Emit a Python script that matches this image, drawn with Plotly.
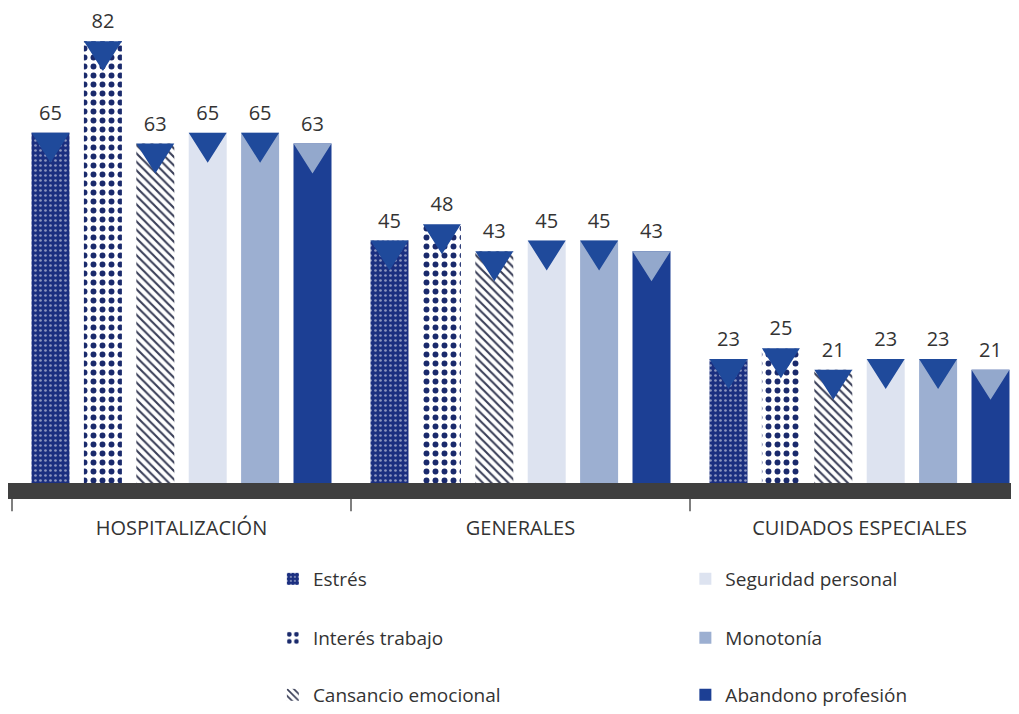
import plotly.graph_objects as go

categories = ["HOSPITALIZACIÓN", "GENERALES", "CUIDADOS ESPECIALES"]
series_names = ["Estrés", "Interés trabajo", "Cansancio emocional",
                "Seguridad personal", "Monotonía", "Abandono profesión"]
estres = [65, 45, 23]
interes = [82, 48, 25]
cansancio = [63, 43, 21]
seguridad = [65, 45, 23]
monotonia = [65, 45, 23]
abandono = [63, 43, 21]
values = [estres, interes, cansancio, seguridad, monotonia, abandono]

# ---- styling / geometry ----
PX_PER_X = 339.0
PX_PER_Y = 5.4
PITCH = 52.4 / PX_PER_X
BAR_W = 38 / PX_PER_X
TRI_H = 30 / PX_PER_Y
LABEL_GAP = 18 / PX_PER_Y
FONT = "Open Sans"
TXT = "#333333"
NAVY = "#1b2f80"

W, H = 1011, 706          # page body has an 8px margin
PLOT_H = 492

styles = [
    dict(color=NAVY, pattern=dict(shape=".", fgcolor="white", size=5, solidity=0.22, fillmode="overlay")),
    dict(color="white", pattern=dict(shape=".", fgcolor="#1a2a6c", bgcolor="white", size=9, solidity=0.34, fillmode="replace")),
    dict(color="white", pattern=dict(shape="\\", fgcolor="#3a3f58", bgcolor="white", size=6, solidity=0.35, fillmode="replace")),
    dict(color="#dde3f0"),
    dict(color="#9cafd1"),
    dict(color="#1c3f94"),
]
legend_ids = ["legend", "legend2", "legend3", "legend4", "legend5", "legend6"]

fig = go.Figure()
gidx = list(range(len(categories)))
dark_x, dark_y, light_x, light_y = [], [], [], []
lab_x, lab_y, lab_t = [], [], []
for i, (name, vals) in enumerate(zip(series_names, values)):
    xs = [g + (i - 2.5) * PITCH for g in gidx]
    fig.add_trace(go.Bar(
        x=xs, y=vals, name=name, width=BAR_W,
        marker=dict(line=dict(width=0), **styles[i]),
        legend=legend_ids[i], hoverinfo="skip",
    ))
    for x, v in zip(xs, vals):
        tx = [x - BAR_W / 2, x + BAR_W / 2, x, x - BAR_W / 2, None]
        ty = [v, v, v - TRI_H, v, None]
        if i == 5:
            light_x += tx; light_y += ty
        else:
            dark_x += tx; dark_y += ty
        lab_x.append(x); lab_y.append(v + LABEL_GAP); lab_t.append(str(v))

fig.add_trace(go.Scatter(x=dark_x, y=dark_y, mode="lines", fill="toself",
                         fillcolor="#1f4a9b", line=dict(width=0, color="#1f4a9b"),
                         showlegend=False, hoverinfo="skip"))
fig.add_trace(go.Scatter(x=light_x, y=light_y, mode="lines", fill="toself",
                         fillcolor="#93a8cc", line=dict(width=0, color="#93a8cc"),
                         showlegend=False, hoverinfo="skip"))
fig.add_trace(go.Scatter(x=lab_x, y=lab_y, mode="text", text=lab_t,
                         textposition="middle center",
                         textfont=dict(size=20, color=TXT, family=FONT),
                         showlegend=False, hoverinfo="skip", cliponaxis=False))

y_bottom = -16 / PX_PER_Y
y_top = y_bottom + PLOT_H / PX_PER_Y
x_left = -0.5 - 4 / PX_PER_X
x_right = x_left + W / PX_PER_X

# dark baseline band
fig.add_shape(type="rect", xref="x", yref="y", x0=x_left, x1=x_right,
              y0=y_bottom, y1=0, fillcolor="#3f3f3f", line=dict(width=0), layer="below")
# group separators
for g in [-0.5] + [g + 0.5 for g in gidx[:-1]]:
    fig.add_shape(type="line", xref="x", yref="paper", x0=g, x1=g, y0=0, y1=-0.025,
                  line=dict(color="#555555", width=1.5))

leg_common = dict(orientation="v", xanchor="left", yanchor="middle",
                  font=dict(size=19, color=TXT, family=FONT),
                  bgcolor="rgba(0,0,0,0)")
col_x = [0.262, 0.670]
row_y = [-0.1606, -0.2805, -0.4004]
legends = {}
for i, lid in enumerate(legend_ids):
    legends[lid] = dict(x=col_x[i // 3], y=row_y[i % 3], **leg_common)

fig.update_layout(
    width=W, height=H,
    margin=dict(l=0, r=0, t=0, b=H - PLOT_H),
    paper_bgcolor="white", plot_bgcolor="white",
    barmode="overlay",
    font=dict(family=FONT, color=TXT),
    xaxis=dict(range=[x_left, x_right], tickvals=gidx, ticktext=categories,
               ticks="outside", ticklen=11, tickcolor="rgba(0,0,0,0)",
               tickfont=dict(size=20, color=TXT, family=FONT),
               showgrid=False, zeroline=False, showline=False, fixedrange=True),
    yaxis=dict(range=[y_bottom, y_top], visible=False, showgrid=False, fixedrange=True),
    **legends,
)

fig.write_html("out.html")
